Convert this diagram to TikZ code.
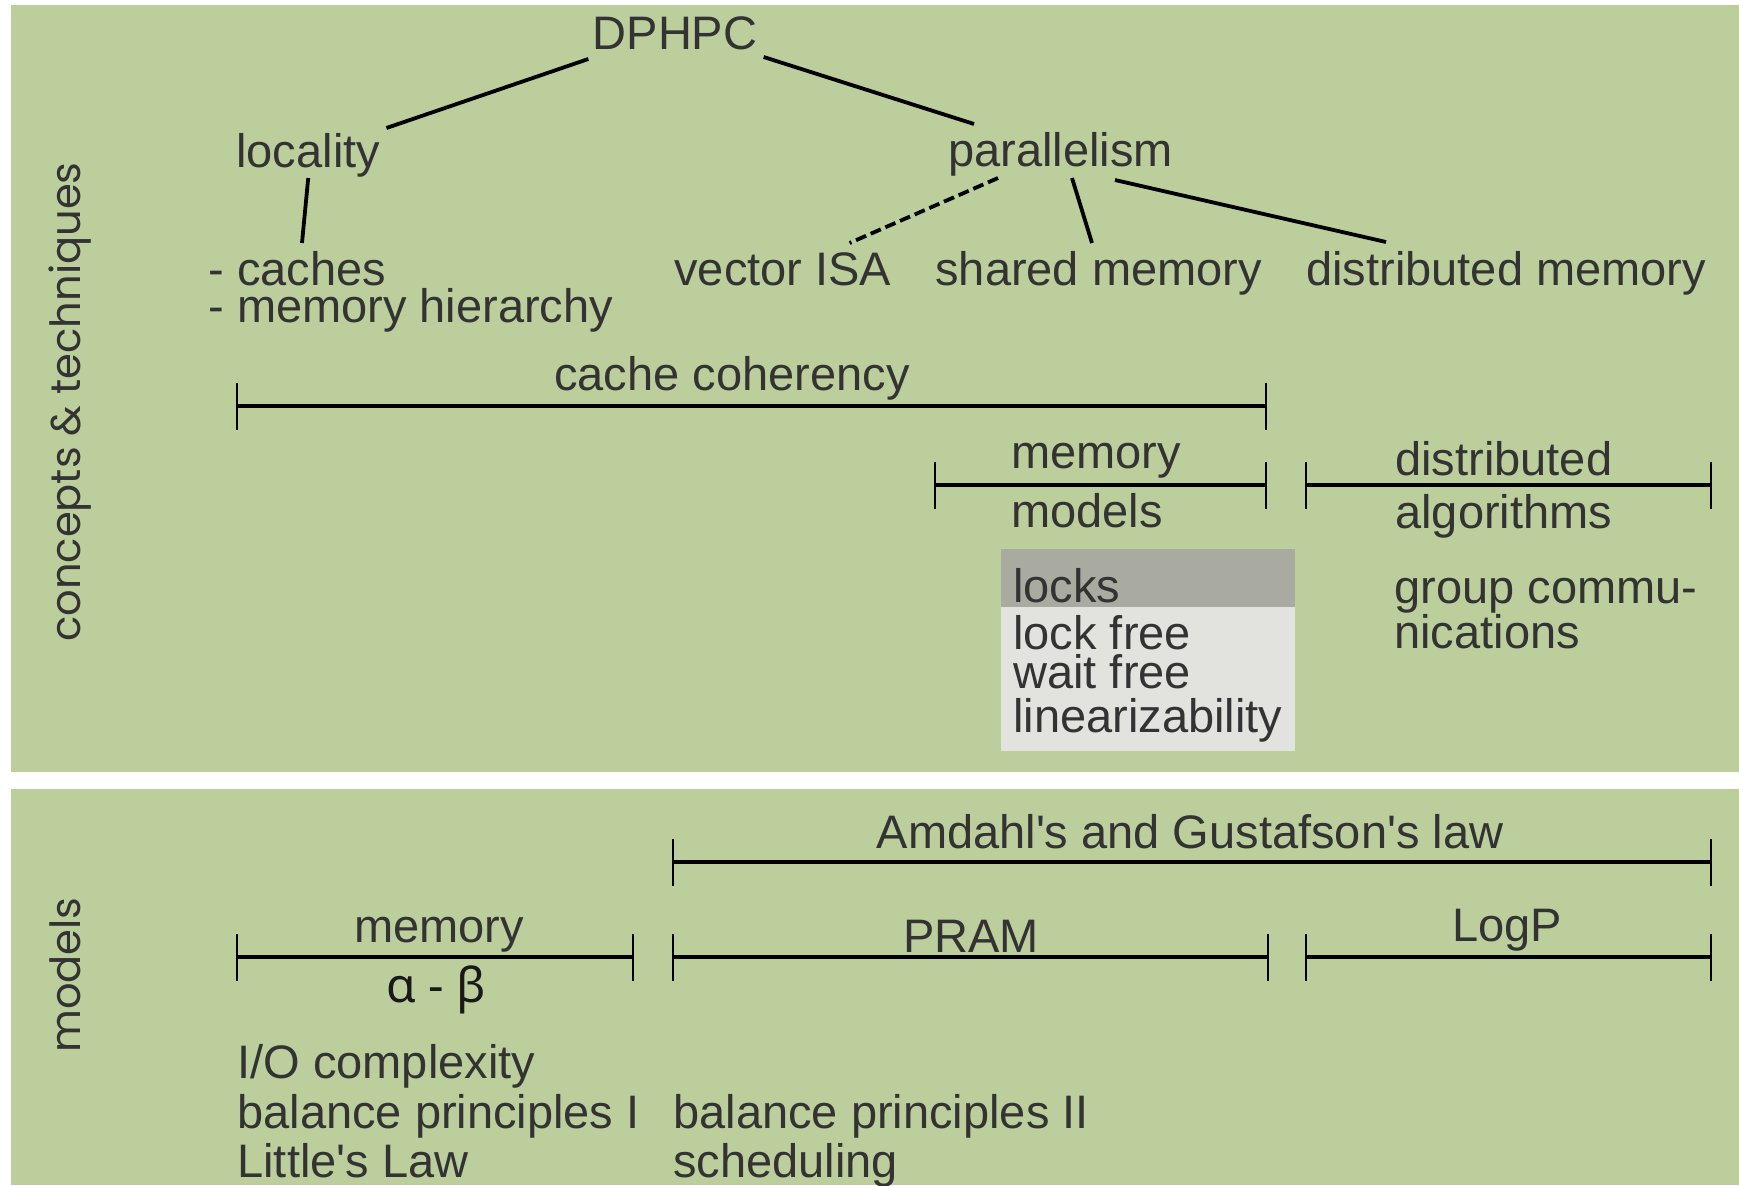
\documentclass[tikz,border=0pt]{standalone}
\usepackage{fontspec}
\setmainfont{Liberation Sans}
\newfontfamily\sidefont{Poppins}
\newfontfamily\grkfont{Noto Sans}
\definecolor{panelgreen}{RGB}{187,206,156}
\definecolor{txtgray}{RGB}{51,51,51}
\definecolor{lockdark}{RGB}{169,170,160}
\definecolor{locklight}{RGB}{226,227,223}
\newcommand\spanbar[4]{%
  \coordinate (#1-l) at (#2,#4);
  \coordinate (#1-r) at (#3,#4);
  \draw[barline] (#1-l) -- (#1-r);
  \draw[tickline] ([yshift=-11.75pt]#1-l) -- ([yshift=11.75pt]#1-l);
  \draw[tickline] ([yshift=-11.75pt]#1-r) -- ([yshift=11.75pt]#1-r);
}
\begin{document}
\begin{tikzpicture}[x=0.5pt,y=-0.5pt,
  txt/.style={inner sep=0pt, text=txtgray, font=\fontsize{23.5}{28}\selectfont},
  lw/.style={txt, anchor=base west},
  lc/.style={txt, anchor=base},
  side/.style={inner sep=0pt, text=txtgray, font=\sidefont\fontsize{20.8}{25}\selectfont, rotate=90, anchor=base},
  tree/.style={line width=1.9pt, black},
  barline/.style={line width=2pt, black},
  tickline/.style={line width=1.3pt, black}]
\useasboundingbox (0,0) rectangle (1739,1185);
\fill[white] (0,0) rectangle (1739,1185);
\fill[panelgreen] (11,5) rectangle (1739,772);
\fill[panelgreen] (11,789) rectangle (1739,1185);

% side labels
\node[side] (sideA) at (80,402) {concepts \& techniques};
\node[side] (sideB) at (80,975) {models};

% tree
\node[lc] (dphpc) at (675,49) {DPHPC};
\node[lw] (locality) at (236,167) {locality};
\node[lw] (parallelism) at (948,166) {parallelism};
\node[lw] (caches) at (208,285) {- caches};
\node[lw] (memhier) at (208,322) {- memory hierarchy};
\node[lw] (vector) at (674,285) {vector ISA};
\node[lw] (shared) at (935,285) {shared memory};
\node[lw] (distmem) at (1306,285) {distributed memory};

\draw[tree] ([shift={(-4,10)}]dphpc.base west) -- ([shift={(6,-39)}]locality.base east);
\draw[tree] ([shift={(6,8)}]dphpc.base east) -- ([shift={(26,-42)}]parallelism.base west);
\draw[tree] ([shift={(0,11)}]locality.base) -- ([shift={(94,-42)}]caches.base west);
\draw[tree, dash pattern=on 5.5pt off 2.5pt] ([shift={(50,12)}]parallelism.base west) -- ([shift={(-42,-42)}]vector.base east);
\draw[tree] ([shift={(124,12)}]parallelism.base west) -- ([shift={(157,-42)}]shared.base west);
\draw[tree] ([shift={(167,14)}]parallelism.base west) -- ([shift={(80,-43)}]distmem.base west);

% upper spans
\spanbar{cc}{237}{1266}{406}
\node[lc] (cachecoh) at (732,390) {cache coherency};
\spanbar{mm}{935}{1266}{485}
\node[lw] (memA) at (1011,468) {memory};
\node[lw] (models) at (1011,527) {models};
\spanbar{da}{1306}{1711}{485}
\node[lw] (distrib) at (1395,475) {distributed};
\node[lw] (algos) at (1395,528) {algorithms};

% locks box
\fill[lockdark] (1001,549) rectangle (1295,607);
\fill[locklight] (1001,607) rectangle (1295,751);
\node[lw] (locks) at (1013,602) {locks};
\node[lw] (lockfree) at (1013,649) {lock free};
\node[lw] (waitfree) at (1013,688) {wait free};
\node[lw] (linear) at (1013,732) {linearizability};

\node[lw] (groupA) at (1394,603) {group commu-};
\node[lw] (groupB) at (1394,648) {nications};

% bottom panel
\spanbar{am}{673}{1711}{862}
\node[lc] (amdahl) at (1190,848) {Amdahl\textquotesingle s and Gustafson\textquotesingle s law};
\spanbar{me}{237}{633}{957}
\node[lc] (memB) at (439,942) {memory};
\node[lc, text=black!90, font=\grkfont\fontsize{24}{28}\selectfont] (alphabeta) at (436,1002) {α - β};
\spanbar{pr}{673}{1268}{957}
\node[lc] (pram) at (971,952) {PRAM};
\spanbar{lp}{1306}{1711}{957}
\node[lc] (logp) at (1507,941) {LogP};

\node[lw] (io) at (237,1078) {I/O complexity};
\node[lw] (balA) at (237,1128) {balance principles I};
\node[lw] (little) at (237,1177) {Little\textquotesingle s Law};
\node[lw] (balB) at (673,1128) {balance principles II};
\node[lw] (sched) at (673,1177) {scheduling};
\end{tikzpicture}
\end{document}
